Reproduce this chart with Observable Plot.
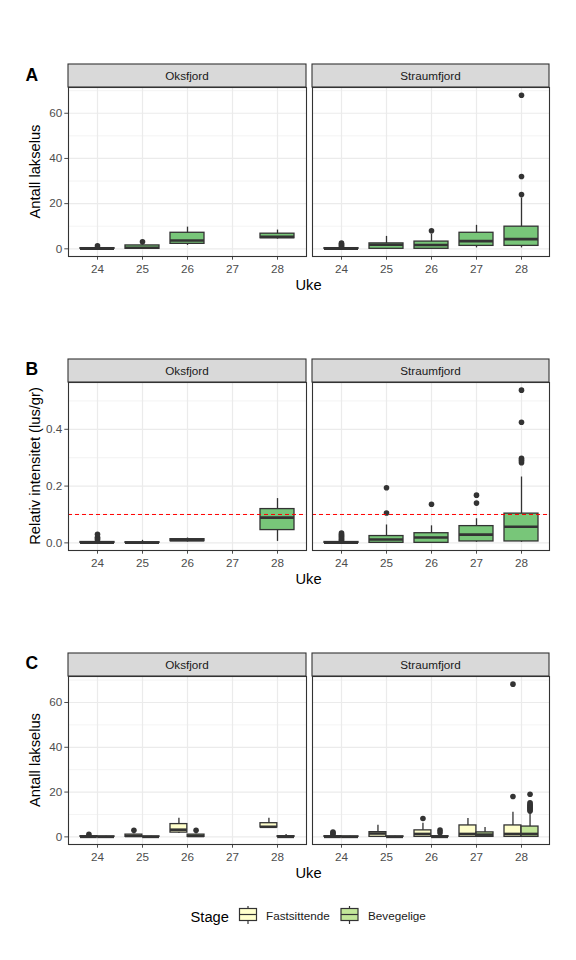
<!DOCTYPE html>
<html>
<head>
<meta charset="utf-8">
<script src="https://cdn.jsdelivr.net/npm/d3@7"></script>
<script src="https://cdn.jsdelivr.net/npm/@observablehq/plot@0.6"></script>
<style>
  html, body { margin: 0; padding: 0; background: #fff; }
  #fig { position: relative; width: 576px; height: 960px; background: #fff; overflow: hidden;
         font-family: "Liberation Sans", Arial, sans-serif; }
  #fig svg.panel { position: absolute; }
  #overlay { position: absolute; left: 0; top: 0; pointer-events: none; }
</style>
</head>
<body>
<div id="fig"></div>
<script>
// ---------------- data ----------------
const weeks = [24, 25, 26, 27, 28];
const fjords = ["Oksfjord", "Straumfjord"];
const stages = ["Fastsittende", "Bevegelige"];
const stageColors = ["#FFFFCC", "#C2E699"];
const boxFill = "#78C679";
const panelLetters = ["A", "B", "C"];
const yTitles = ["Antall lakselus", "Relativ intensitet (lus/gr)", "Antall lakselus"];
const xTitle = "Uke";
const legendTitle = "Stage";
const threshold = [0.1];
const countTicks = [0, 20, 40, 60];
const countMinor = [10, 30, 50, 70];
const intensityTicks = [0, 0.2, 0.4];
const intensityMinor = [0.1, 0.3, 0.5];

// columns: fjord, week, lower whisker, q1, median, q3, upper whisker, outliers
const countBoxes = [
  ["Oksfjord", 24, 0, 0, 0, 0.3, 0.6, [1.3]],
  ["Oksfjord", 25, 0, 0, 0.5, 1.5, 1.8, [3.1]],
  ["Oksfjord", 26, 1.5, 2.2, 3.7, 7.1, 9.6, []],
  ["Oksfjord", 28, 4.3, 4.7, 5.3, 6.7, 8.3, []],
  ["Straumfjord", 24, 0, 0, 0, 0.3, 0.6, [1, 1.5, 2, 2.5]],
  ["Straumfjord", 25, 0, 0, 1.8, 2.4, 5.5, []],
  ["Straumfjord", 26, 0, 0, 1.7, 3.2, 6.5, [8.0]],
  ["Straumfjord", 27, 0.4, 1.3, 3.4, 7.1, 10.4, []],
  ["Straumfjord", 28, 0.4, 1.3, 4.3, 9.8, 22.5, [24, 32, 68]]
];
const intensityBoxes = [
  ["Oksfjord", 24, 0, 0, 0.001, 0.003, 0.006, [0.01, 0.015, 0.02, 0.03]],
  ["Oksfjord", 25, 0, 0, 0.001, 0.002, 0.009, []],
  ["Oksfjord", 26, 0.003, 0.006, 0.009, 0.013, 0.017, []],
  ["Oksfjord", 28, 0.005, 0.045, 0.089, 0.119, 0.156, []],
  ["Straumfjord", 24, 0, 0, 0.001, 0.003, 0.004, [0.006, 0.01, 0.014, 0.018, 0.022, 0.026, 0.03, 0.035]],
  ["Straumfjord", 25, 0, 0, 0.012, 0.024, 0.063, [0.105, 0.194]],
  ["Straumfjord", 26, 0, 0, 0.019, 0.034, 0.060, [0.136]],
  ["Straumfjord", 27, 0.002, 0.005, 0.029, 0.059, 0.085, [0.14, 0.168]],
  ["Straumfjord", 28, 0.002, 0.005, 0.057, 0.103, 0.232, [0.282, 0.288, 0.293, 0.298, 0.425, 0.538]]
];
// columns: fjord, week, stage, lower whisker, q1, median, q3, upper whisker, outliers
const stageBoxes = [
  ["Oksfjord", 24, "Fastsittende", 0, 0, 0, 0.3, 0.5, [1.2]],
  ["Oksfjord", 24, "Bevegelige", 0, 0, 0, 0.2, 0.3, []],
  ["Oksfjord", 25, "Fastsittende", 0, 0, 0.4, 1, 1.2, [2.9]],
  ["Oksfjord", 25, "Bevegelige", 0, 0, 0, 0.2, 0.3, []],
  ["Oksfjord", 26, "Fastsittende", 1.5, 1.9, 3.2, 5.7, 8.3, []],
  ["Oksfjord", 26, "Bevegelige", 0, 0, 0.4, 1, 1.2, [2.9]],
  ["Oksfjord", 28, "Fastsittende", 4.0, 4.2, 4.5, 6.1, 8.3, []],
  ["Oksfjord", 28, "Bevegelige", 0, 0, 0, 0.3, 1.0, []],
  ["Straumfjord", 24, "Fastsittende", 0, 0, 0, 0.3, 0.5, [1.2, 1.7, 2.2]],
  ["Straumfjord", 24, "Bevegelige", 0, 0, 0, 0.2, 0.3, []],
  ["Straumfjord", 25, "Fastsittende", 0, 0, 1.5, 2.1, 5.2, []],
  ["Straumfjord", 25, "Bevegelige", 0, 0, 0, 0.2, 0.3, []],
  ["Straumfjord", 26, "Fastsittende", 0, 0, 1.3, 2.9, 6.1, [8.2]],
  ["Straumfjord", 26, "Bevegelige", 0, 0, 0, 0.3, 0.6, [1.8, 3.0]],
  ["Straumfjord", 27, "Fastsittende", 0, 0, 1.3, 5.1, 8.2, []],
  ["Straumfjord", 27, "Bevegelige", 0, 0, 1.0, 2.0, 4.2, []],
  ["Straumfjord", 28, "Fastsittende", 0, 0, 1.3, 5.1, 11, [18, 68.2]],
  ["Straumfjord", 28, "Bevegelige", 0, 0, 1.3, 4.6, 10.2, [11.5, 12, 12.5, 13, 13.5, 14, 14.5, 15.2, 19]]
];

// ---------------- helpers ----------------
const toBox = a => ({fjord: a[0], week: a[1], lo: a[2], q1: a[3], med: a[4], q3: a[5], hi: a[6], out: a[7]});
const toStageBox = a => ({fjord: a[0], week: a[1], stage: a[2], lo: a[3], q1: a[4], med: a[5], q3: a[6], hi: a[7], out: a[8]});
const A = countBoxes.map(toBox), B = intensityBoxes.map(toBox), C = stageBoxes.map(toStageBox);

function expandedDomain(rows) {
  const vals = rows.flatMap(d => [d.lo, d.hi, ...d.out]);
  const [mn, mx] = d3.extent(vals);
  const pad = (mx - mn) * 0.05;
  return [mn - pad, mx + pad];
}

// layout (pixels)
const cols = [{left: 68, right: 306}, {left: 312, right: 549}];
const rowsGeom = [
  {stripTop: 64, top: 87, bottom: 256, letterY: 80.5, xTitleY: 290},
  {stripTop: 359, top: 382, bottom: 550, letterY: 375, xTitleY: 583.5},
  {stripTop: 653, top: 676, bottom: 844, letterY: 668.5, xTitleY: 878}
];
const padInner = 0.25, padOuter = 0.225;
const ink = "#333333";
const fig = document.getElementById("fig");

function boxMarks(data, fill, insetLeft, insetRight, dx) {
  const outliers = data.flatMap(d => d.out.map(v => ({week: d.week, v})));
  return [
    Plot.ruleX(data, {x: "week", y1: "lo", y2: "hi", stroke: ink, strokeWidth: 1.3, dx}),
    Plot.barY(data, {x: "week", y1: "q1", y2: "q3", fill, stroke: ink, strokeWidth: 1.3, insetLeft, insetRight}),
    Plot.tickY(data, {x: "week", y: "med", stroke: ink, strokeWidth: 2.6, insetLeft, insetRight}),
    Plot.dot(outliers, {x: "week", y: "v", r: 2.8, fill: ink, stroke: null, dx})
  ];
}

function drawPanel(r, c, rows, dodge, yDomain, major, minor, fmt, ref) {
  const g = rowsGeom[r], col = cols[c];
  const mL = c === 0 ? 68 : 2, mR = 2, mT = 2, mB = 26;
  const pw = col.right - col.left, ph = g.bottom - g.top;
  const step = pw / (weeks.length - padInner + 2 * padOuter);
  const bw = step * (1 - padInner);
  const data = rows.filter(d => d.fjord === fjords[c]);
  const marks = [
    Plot.gridY({ticks: minor, stroke: "#EBEBEB", strokeOpacity: 1, strokeWidth: 0.6}),
    Plot.gridY({ticks: major, stroke: "#EBEBEB", strokeOpacity: 1, strokeWidth: 1.2}),
    Plot.gridX({stroke: "#EBEBEB", strokeOpacity: 1, strokeWidth: 1.2})
  ];
  if (dodge) {
    stages.forEach((s, i) => {
      const sub = data.filter(d => d.stage === s);
      const half = bw / 2;
      marks.push(...boxMarks(sub, stageColors[i], i === 0 ? 0 : half, i === 0 ? half : 0, i === 0 ? -half / 2 : half / 2));
    });
  } else {
    marks.push(...boxMarks(data, boxFill, 0, 0, 0));
  }
  if (ref) marks.push(Plot.ruleY(ref, {stroke: "#FF0000", strokeDasharray: "4,3", strokeWidth: 1}));
  marks.push(Plot.axisX({tickSize: 3.7, tickPadding: 4.3, label: null, color: "#4D4D4D"}));
  if (c === 0) marks.push(Plot.axisY({ticks: major, tickFormat: fmt, tickSize: 3.7, tickPadding: 2.6, label: null, color: "#4D4D4D"}));
  marks.push(Plot.frame({stroke: ink, strokeWidth: 1.1}));
  const svg = Plot.plot({
    width: pw + mL + mR, height: ph + mT + mB,
    marginLeft: mL, marginRight: mR, marginTop: mT, marginBottom: mB,
    x: {type: "band", domain: weeks, paddingInner: padInner, paddingOuter: padOuter, axis: null},
    y: {domain: yDomain, axis: null},
    style: {fontFamily: "'Liberation Sans', Arial, sans-serif", fontSize: "11.7px", color: "#4D4D4D", background: "transparent", overflow: "visible"},
    marks
  });
  svg.classList.add("panel");
  svg.style.left = (col.left - mL) + "px";
  svg.style.top = (g.top - mT) + "px";
  fig.appendChild(svg);
}

const domA = expandedDomain(A), domB = expandedDomain(B), domC = expandedDomain(C);
const fmtCount = d => String(d), fmtInt = d3.format(".1f");
[0, 1].forEach(c => {
  drawPanel(0, c, A, false, domA, countTicks, countMinor, fmtCount, null);
  drawPanel(1, c, B, false, domB, intensityTicks, intensityMinor, fmtInt, threshold);
  drawPanel(2, c, C, true, domC, countTicks, countMinor, fmtCount, null);
});

// ---------------- overlay: strips, titles, legend ----------------
const ns = "http://www.w3.org/2000/svg";
const ov = d3.select(fig).append("svg").attr("id", "overlay").attr("width", 576).attr("height", 960)
  .style("font-family", "'Liberation Sans', Arial, sans-serif");

rowsGeom.forEach((g, r) => {
  cols.forEach((col, c) => {
    ov.append("rect").attr("x", col.left).attr("y", g.stripTop)
      .attr("width", col.right - col.left).attr("height", g.top - g.stripTop)
      .attr("fill", "#D9D9D9").attr("stroke", ink).attr("stroke-width", 1.1);
    ov.append("text").attr("x", (col.left + col.right) / 2).attr("y", (g.stripTop + g.top) / 2)
      .attr("dy", "0.35em").attr("text-anchor", "middle").attr("font-size", 11.7)
      .attr("fill", "#1A1A1A").text(fjords[c]);
  });
  ov.append("text").attr("x", 25.5).attr("y", g.letterY).attr("font-size", 17.5)
    .attr("font-weight", "bold").attr("fill", "#000").text(panelLetters[r]);
  ov.append("text").attr("transform", `translate(40,${(g.top + g.bottom) / 2}) rotate(-90)`)
    .attr("text-anchor", "middle").attr("font-size", 14.7).attr("fill", "#000").text(yTitles[r]);
  ov.append("text").attr("x", (cols[0].left + cols[1].right) / 2).attr("y", g.xTitleY)
    .attr("text-anchor", "middle").attr("font-size", 14.7).attr("fill", "#000").text(xTitle);
});

// legend
ov.append("text").attr("x", 190.5).attr("y", 921.5).attr("font-size", 14.7).attr("fill", "#000").text(legendTitle);
const keyX = [239.5, 341];
const labelX = [266, 368];
stages.forEach((s, i) => {
  const x0 = keyX[i], w = 17, cx = x0 + w / 2;
  ov.append("line").attr("x1", cx).attr("x2", cx).attr("y1", 906).attr("y2", 924)
    .attr("stroke", ink).attr("stroke-width", 1.2);
  ov.append("rect").attr("x", x0).attr("y", 908.5).attr("width", w).attr("height", 12)
    .attr("fill", stageColors[i]).attr("stroke", ink).attr("stroke-width", 1.2);
  ov.append("line").attr("x1", x0).attr("x2", x0 + w).attr("y1", 914.5).attr("y2", 914.5)
    .attr("stroke", ink).attr("stroke-width", 1.2);
  ov.append("text").attr("x", labelX[i]).attr("y", 920).attr("font-size", 11.7).attr("fill", "#1A1A1A").text(s);
});
</script>
</body>
</html>
